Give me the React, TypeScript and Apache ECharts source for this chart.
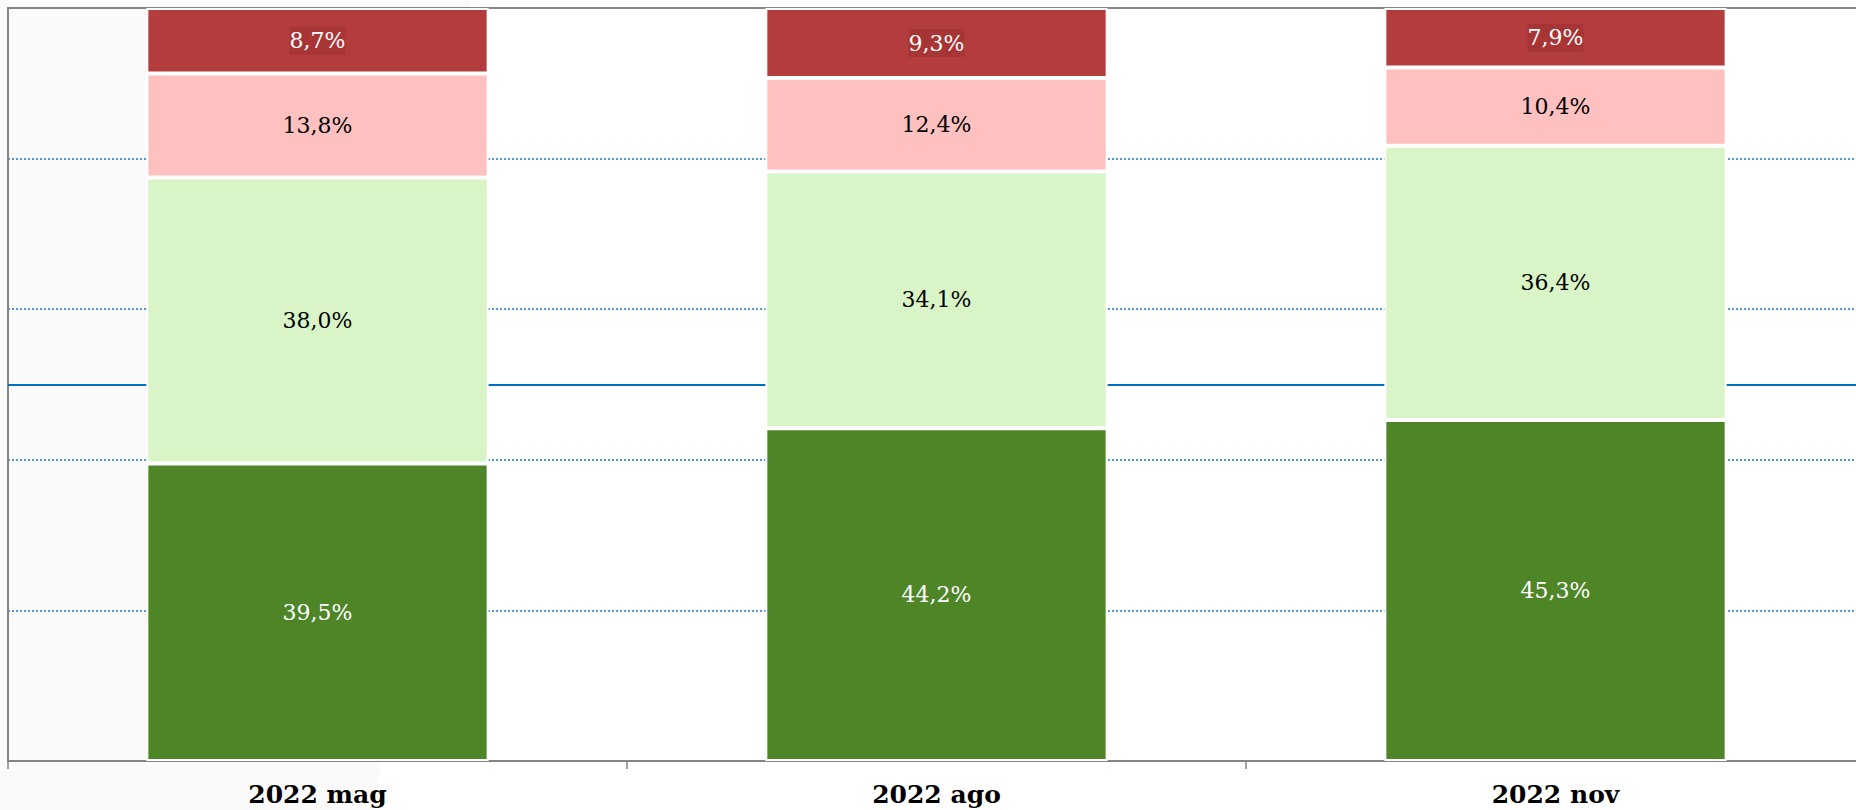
import React, { useEffect, useRef } from "react";
import * as echarts from "echarts";

const categories = ["2022 mag", "2022 ago", "2022 nov"];
const darkGreen = [39.5, 44.2, 45.3];
const lightGreen = [38.0, 34.1, 36.4];
const pink = [13.8, 12.4, 10.4];
const darkRed = [8.7, 9.3, 7.9];
const yTicks = [0, 20, 40, 60, 80, 100];

const fmt = (p: any) => Number(p.value).toFixed(1).replace(".", ",") + "%";

const makeSeries = (name: string, data: number[], color: string, labelColor: string, extra: any = {}) => ({
  name,
  type: "bar",
  stack: "total",
  data,
  barWidth: "55.3%",
  itemStyle: { color, borderColor: "#ffffff", borderWidth: 2 },
  label: {
    show: true,
    position: "inside",
    formatter: fmt,
    color: labelColor,
    fontFamily: "DejaVu Serif",
    fontSize: 22,
    ...(extra.label || {}),
  },
  ...(extra.rest || {}),
});

export default function App() {
  const ref = useRef<HTMLDivElement>(null);
  useEffect(() => {
    if (!ref.current) return;
    const chart = echarts.init(ref.current, null, { renderer: "svg" });
    const splitColors = yTicks.map((v) => (v === 0 || v === 100 ? "rgba(0,0,0,0)" : "#1a78c8"));
    chart.setOption({
      animation: false,
      backgroundColor: "#ffffff",
      graphic: [
        {
          type: "polygon",
          z: -100,
          silent: true,
          shape: { points: [[0, 0], [470, 0], [375, 810], [0, 810]] },
          style: { fill: "#FAFAFA" },
        },
      ],
      grid: {
        left: 8,
        top: 8,
        width: 1857,
        height: 753,
        show: true,
        backgroundColor: "transparent",
        borderColor: "#858585",
        borderWidth: 2,
      },
      xAxis: {
        type: "category",
        data: categories,
        axisLine: { show: true, lineStyle: { color: "#858585", width: 2 } },
        axisTick: { show: true, alignWithLabel: false, length: 8, lineStyle: { color: "#858585", width: 1.5 } },
        axisLabel: {
          color: "#000000",
          fontFamily: "DejaVu Serif",
          fontWeight: "bold",
          fontSize: 25,
          margin: 21,
        },
      },
      yAxis: {
        type: "value",
        min: 0,
        max: 100,
        interval: 20,
        axisLine: { show: true, lineStyle: { color: "#858585", width: 2 } },
        axisTick: { show: false },
        axisLabel: { show: false },
        splitLine: {
          show: true,
          lineStyle: { color: splitColors, width: 1.5, type: [2, 2] },
        },
      },
      series: [
        makeSeries("s1", darkGreen, "#4E8627", "#ffffff", {
          rest: {
            markLine: {
              silent: true,
              symbol: "none",
              z: 1,
              label: { show: false },
              lineStyle: { color: "#0070C0", width: 2, type: "solid" },
              data: [{ yAxis: 50 }],
            },
          },
        }),
        makeSeries("s2", lightGreen, "#D9F5C7", "#000000"),
        makeSeries("s3", pink, "#FFC0C0", "#000000"),
        makeSeries("s4", darkRed, "#B33C3D", "#ffffff", {
          label: { backgroundColor: "#A83536", padding: [3, 0, 3, 0] },
        }),
      ],
    });
    return () => chart.dispose();
  }, []);
  return (
    <div
      style={{
        position: "absolute",
        left: 0,
        top: 0,
        width: 1856,
        height: 810,
        overflow: "hidden",
      }}
    >
      <div ref={ref} style={{ width: 1872, height: 810 }} />
    </div>
  );
}
